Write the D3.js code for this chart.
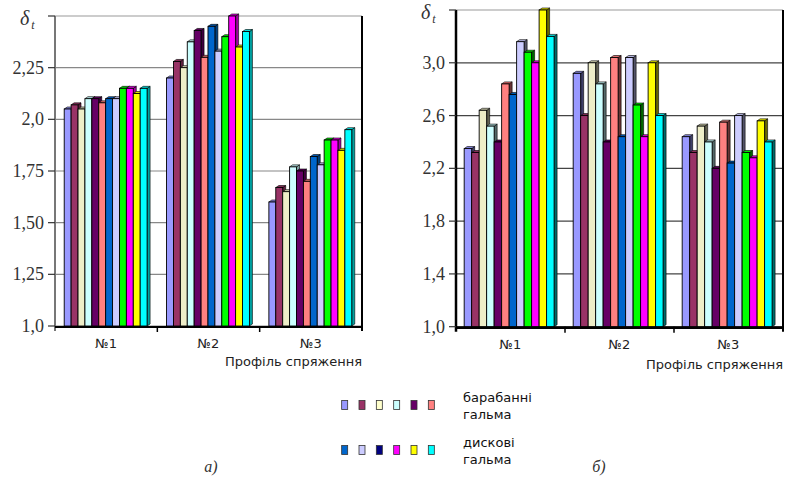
<!DOCTYPE html>
<html>
<head>
<meta charset="utf-8">
<script src="https://cdn.jsdelivr.net/npm/d3@7"></script>
<style>
  body { margin: 0; background: #fff; }
  svg { display: block; }
</style>
</head>
<body>
<svg id="chart" width="785" height="477"></svg>
<script>
const categories = ['№1', '№2', '№3'];

// 12 series: 6 drum brakes + 6 disc brakes
const barColors = ['#9999FF', '#993366', '#EEEEC8', '#CCFFFF', '#660066', '#FF8080',
  '#0066CC', '#CCCCFF', '#00FF00', '#FF00FF', '#FFFF00', '#00FFFF'];
const legendDrum = ['#9999FF', '#993366', '#FFFFCC', '#CCFFFF', '#660066', '#FF8080'];
const legendDisc = ['#0066CC', '#CCCCFF', '#000080', '#FF00FF', '#FFFF00', '#00FFFF'];
const legendDrumLabel = ['барабанні', 'гальма'];
const legendDiscLabel = ['дискові', 'гальма'];

// chart a) values per category
const valuesA1 = [2.05, 2.07, 2.05, 2.10, 2.10, 2.08, 2.10, 2.10, 2.15, 2.15, 2.125, 2.15];
const valuesA2 = [2.20, 2.28, 2.25, 2.375, 2.43, 2.30, 2.45, 2.33, 2.40, 2.50, 2.35, 2.425];
const valuesA3 = [1.60, 1.67, 1.65, 1.77, 1.75, 1.70, 1.82, 1.78, 1.90, 1.90, 1.85, 1.95];

// chart б) values per category
const valuesB1 = [2.35, 2.32, 2.64, 2.52, 2.40, 2.84, 2.76, 3.16, 3.08, 3.00, 3.40, 3.20];
const valuesB2 = [2.92, 2.60, 3.00, 2.84, 2.40, 3.04, 2.44, 3.04, 2.68, 2.44, 3.00, 2.60];
const valuesB3 = [2.44, 2.32, 2.52, 2.40, 2.20, 2.55, 2.24, 2.60, 2.32, 2.28, 2.56, 2.40];

const ticksA = [1.0, 1.25, 1.5, 1.75, 2.0, 2.25, 2.5];
const tickLabelsA = ['1,0', '1,25', '1,50', '1,75', '2,0', '2,25', ''];
const ticksB = [1.0, 1.4, 1.8, 2.2, 2.6, 3.0, 3.4];
const tickLabelsB = ['1,0', '1,4', '1,8', '2,2', '2,6', '3,0', ''];

const svg = d3.select('#chart');

function drawChart(cfg) {
  const g = svg.append('g');
  const x0 = d3.scaleBand().domain(categories).range([cfg.left, cfg.right]).padding(0);
  const bw = x0.bandwidth();
  const x1 = d3.scaleBand().domain(d3.range(12))
    .range([bw * cfg.padL, bw * (1 - cfg.padR)]).padding(0);
  const y = d3.scaleLinear().domain(cfg.domain).range([cfg.bottom, cfg.top]);

  // gridlines
  g.selectAll('line.grid')
    .data(cfg.ticks)
    .join('line')
    .attr('x1', cfg.left).attr('x2', cfg.right)
    .attr('y1', d => y(d)).attr('y2', d => y(d))
    .attr('stroke', (d, i) => i === cfg.ticks.length - 1 ? '#999' : cfg.gridColor)
    .attr('stroke-width', 1.2);

  // bars with a little 3D depth
  const dx = 3, dy = 2;
  const data = cfg.values.map((vals, ci) => vals.map((v, si) => ({ cat: categories[ci], si, v }))).flat();
  data.forEach(d => {
    const x = x0(d.cat) + x1(d.si);
    const w = x1.bandwidth();
    const yt = y(d.v);
    const yb = cfg.bottom;
    const col = barColors[d.si];
    g.append('polygon')
      .attr('points', [[x + w, yt], [x + w + dx, yt - dy], [x + w + dx, yb - dy], [x + w, yb]].join(' '))
      .attr('fill', d3.color(col).darker(cfg.sideDark))
      .attr('stroke', '#000').attr('stroke-width', 0.6);
    g.append('polygon')
      .attr('points', [[x, yt], [x + dx, yt - dy], [x + w + dx, yt - dy], [x + w, yt]].join(' '))
      .attr('fill', d3.color(col).darker(0.4))
      .attr('stroke', '#000').attr('stroke-width', 0.6);
    g.append('rect')
      .attr('x', x).attr('y', yt)
      .attr('width', w).attr('height', yb - yt)
      .attr('fill', col)
      .attr('stroke', '#000').attr('stroke-width', 0.9);
  });

  // axes
  g.append('line')
    .attr('x1', cfg.left).attr('x2', cfg.left)
    .attr('y1', cfg.top).attr('y2', cfg.bottom + 5)
    .attr('stroke', cfg.axisColor).attr('stroke-width', cfg.axisWidth);
  g.append('line')
    .attr('x1', cfg.right).attr('x2', cfg.right)
    .attr('y1', cfg.top).attr('y2', cfg.bottom + 5)
    .attr('stroke', '#000').attr('stroke-width', 2);
  g.append('line')
    .attr('x1', cfg.left).attr('x2', cfg.right)
    .attr('y1', cfg.bottom + 1).attr('y2', cfg.bottom + 1)
    .attr('stroke', '#000').attr('stroke-width', cfg.axisWidth);

  // category boundary ticks
  g.selectAll('line.ctick')
    .data(categories.slice(1))
    .join('line')
    .attr('x1', d => x0(d)).attr('x2', d => x0(d))
    .attr('y1', cfg.bottom).attr('y2', cfg.bottom + 6)
    .attr('stroke', '#000').attr('stroke-width', 1.5);

  // y ticks + labels
  g.selectAll('line.ytick')
    .data(cfg.ticks)
    .join('line')
    .attr('x1', cfg.left - 7).attr('x2', cfg.left)
    .attr('y1', d => y(d)).attr('y2', d => y(d))
    .attr('stroke', '#333').attr('stroke-width', 1.2);
  g.selectAll('text.ylab')
    .data(cfg.ticks)
    .join('text')
    .text((d, i) => cfg.tickLabels[i])
    .attr('x', cfg.left - 11)
    .attr('y', d => y(d) + 6)
    .attr('text-anchor', 'end')
    .style('font-family', '"Liberation Serif", "DejaVu Serif", serif')
    .style('font-size', '18px')
    .attr('fill', '#333');

  // delta_t
  const dl = g.append('text')
    .attr('x', cfg.left - 35).attr('y', cfg.top + 9)
    .style('font-family', '"Liberation Serif", serif')
    .style('font-style', 'italic')
    .attr('fill', '#333');
  dl.append('tspan').text('δ').style('font-size', '20px');
  dl.append('tspan').text('t').style('font-size', '12px').attr('dx', 2).attr('dy', 4);

  // category labels
  g.selectAll('text.cat')
    .data(categories)
    .join('text')
    .text(d => d)
    .attr('x', d => x0(d) + bw / 2)
    .attr('y', cfg.bottom + 22)
    .attr('text-anchor', 'middle')
    .style('font-family', '"DejaVu Sans", sans-serif')
    .style('font-size', '13px')
    .attr('fill', '#222');

  g.append('text')
    .text('Профіль спряження')
    .attr('x', cfg.right)
    .attr('y', cfg.bottom + cfg.titleDy)
    .attr('text-anchor', 'end')
    .style('font-family', '"DejaVu Sans", sans-serif')
    .style('font-size', '13px')
    .attr('fill', '#222');

  // caption
  g.append('text')
    .text(cfg.caption)
    .attr('x', cfg.captionX)
    .attr('y', 472)
    .attr('text-anchor', 'middle')
    .style('font-family', '"Liberation Serif", serif')
    .style('font-style', 'italic')
    .style('font-size', '16px')
    .attr('fill', '#333');
}

drawChart({
  left: 55, right: 362, top: 16, bottom: 326,
  domain: [1, 2.5], ticks: ticksA, tickLabels: tickLabelsA,
  values: [valuesA1, valuesA2, valuesA3],
  padL: 0.09, padR: 0.10,
  gridColor: '#888', axisColor: '#777', axisWidth: 2, sideDark: 1.3,
  titleDy: 40, caption: 'а)', captionX: 211
});

drawChart({
  left: 456, right: 783, top: 10, bottom: 326.7,
  domain: [1, 3.4], ticks: ticksB, tickLabels: tickLabelsB,
  values: [valuesB1, valuesB2, valuesB3],
  padL: 0.075, padR: 0.10,
  gridColor: '#444', axisColor: '#000', axisWidth: 2.5, sideDark: 2.5,
  titleDy: 42, caption: 'б)', captionX: 599
});

// legend
const legX = d3.scaleBand().domain(d3.range(6)).range([336, 440]);
function legendRow(colors, labels, cy) {
  svg.selectAll(null)
    .data(colors)
    .join('rect')
    .attr('x', (d, i) => legX(i) + legX.bandwidth() / 2 - 3)
    .attr('y', cy - 4.5)
    .attr('width', 6).attr('height', 9)
    .attr('fill', d => d)
    .attr('stroke', '#333').attr('stroke-width', 0.8);
  svg.selectAll(null)
    .data(labels)
    .join('text')
    .text(d => d)
    .attr('x', 463)
    .attr('y', (d, i) => cy - 3 + i * 17)
    .style('font-family', '"DejaVu Sans", sans-serif')
    .style('font-size', '13px')
    .attr('fill', '#111');
}
legendRow(legendDrum, legendDrumLabel, 405);
legendRow(legendDisc, legendDiscLabel, 450);
</script>
</body>
</html>
